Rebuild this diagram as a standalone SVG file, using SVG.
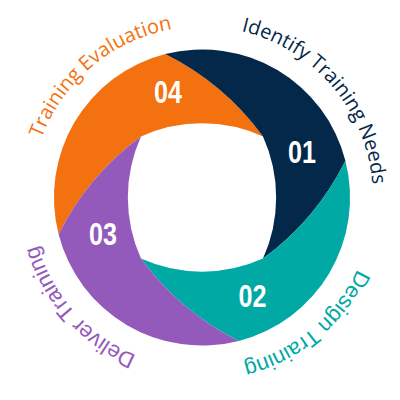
<svg xmlns="http://www.w3.org/2000/svg" xmlns:xlink="http://www.w3.org/1999/xlink" width="400" height="400" viewBox="0 0 400 400">
<style>
.num{font-family:"Liberation Sans",Arial,sans-serif;font-weight:bold;font-size:31px;fill:#fff;text-anchor:middle}
.top{font-family:"Open Sans","Liberation Sans",sans-serif;font-size:20px}
.bot{font-family:"Liberation Sans",Arial,sans-serif;font-size:22px}
</style>
<defs>
<path id="arc04" d="M41.5,138.5 A171,171 0 0 1 178.2,28.2"/>
<path id="arc01" d="M241.3,31.1 A171,171 0 0 1 373,197.5"/>
<path id="arc02" d="M357.2,269.2 A171,171 0 0 1 231.7,365.9"/>
<path id="arc03" d="M136.3,355.4 A171,171 0 0 1 34.7,233.1"/>
</defs>
<rect width="400" height="400" fill="#fff"/>
<g id="step04">
<path fill="#F4710F" d="M58.6,234.3 A148,148 0 0 1 165.2,54.1 A270,270 0 0 1 263,136.5 A148,148 0 0 0 141,136.5 A270,270 0 0 0 58.6,234.3 Z"/>
<text class="num" x="168" y="103" textLength="28" lengthAdjust="spacingAndGlyphs">04</text>
<text class="top" fill="#F4710F"><textPath xlink:href="#arc04">Training Evaluation</textPath></text>
</g>
<g id="step01">
<path fill="#03284A" d="M165.2,54.1 A148,148 0 0 1 345.4,160.7 A270,270 0 0 1 263,258.5 A148,148 0 0 0 263,136.5 A270,270 0 0 0 165.2,54.1 Z"/>
<text class="num" x="302" y="163" textLength="28" lengthAdjust="spacingAndGlyphs">01</text>
<text class="top" fill="#03284A"><textPath xlink:href="#arc01">Identify Training Needs</textPath></text>
</g>
<g id="step02">
<path fill="#00A9A4" d="M345.4,160.7 A148,148 0 0 1 238.8,340.9 A270,270 0 0 1 141,258.5 A148,148 0 0 0 263,258.5 A270,270 0 0 0 345.4,160.7 Z"/>
<text class="num" x="252.5" y="307" textLength="28" lengthAdjust="spacingAndGlyphs">02</text>
<text class="bot" fill="#00A9A4"><textPath xlink:href="#arc02">Design Training</textPath></text>
</g>
<g id="step03">
<path fill="#935ABC" d="M238.8,340.9 A148,148 0 0 1 58.6,234.3 A270,270 0 0 1 141,136.5 A148,148 0 0 0 141,258.5 A270,270 0 0 0 238.8,340.9 Z"/>
<text class="num" x="103" y="245" textLength="28" lengthAdjust="spacingAndGlyphs">03</text>
<text class="bot" fill="#935ABC"><textPath xlink:href="#arc03">Deliver Training</textPath></text>
</g>
<g id="connectors"/>
</svg>
